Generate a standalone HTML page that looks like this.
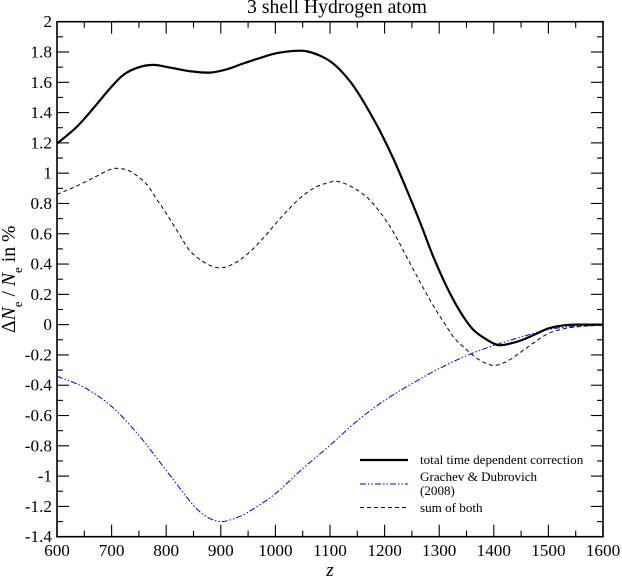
<!DOCTYPE html>
<html>
<head>
<meta charset="utf-8">
<style>
html,body{margin:0;padding:0;background:#fff;}
svg{display:block;font-family:"Liberation Serif",serif;fill:#000;}
.tick-label{font-size:17.2px;}
.legend-text{font-size:13.1px;}
</style>
</head>
<body>
<svg id="chart" width="622" height="578" viewBox="0 0 622 578" xmlns="http://www.w3.org/2000/svg">
  <text x="337" y="13" text-anchor="middle" font-size="19.7">3 shell Hydrogen atom</text>
  <g id="curves"></g>
  <g id="ticks"></g>
  <rect x="57" y="21.7" width="546" height="515" fill="none" stroke="#000" stroke-width="1.6"></rect>
  <g id="labels"></g>
  <text transform="translate(15,333) rotate(-90)" font-size="19.7">Δ<tspan font-style="italic">N</tspan><tspan font-size="13" dy="7">e</tspan><tspan dy="-7"> / </tspan><tspan font-style="italic">N</tspan><tspan font-size="13" dy="7">e</tspan><tspan dy="-7"> in %</tspan></text>
  <text x="330" y="576" text-anchor="middle" font-size="19" font-style="italic">z</text>
  <g>
    <line x1="360" x2="408" y1="460" y2="460" stroke="#000" stroke-width="2.2"></line>
    <text class="legend-text" x="420" y="464">total time dependent correction</text>
    <line x1="360" x2="408" y1="484" y2="484" stroke="#0000e0" stroke-width="1" stroke-dasharray="6,2,1.5,2,1.5,2"></line>
    <text class="legend-text" x="420" y="481">Grachev &amp; Dubrovich</text>
    <text class="legend-text" x="420" y="495">(2008)</text>
    <line x1="360" x2="408" y1="507.5" y2="507.5" stroke="#000" stroke-width="1" stroke-dasharray="4,3"></line>
    <text class="legend-text" x="420" y="512">sum of both</text>
  </g>
</svg>
<script>
const totalZ = [600,636,666,697,721,746,776,807,844,880,911,941,972,1002,1033,1057,1088,1112,1137,1155,1173,1192,1216,1240,1265,1289,1314,1338,1362,1387,1400,1410,1430,1450,1475,1500,1525,1550,1600];
const totalValues = [1.195,1.305,1.426,1.559,1.647,1.695,1.715,1.697,1.673,1.664,1.686,1.724,1.761,1.792,1.807,1.805,1.765,1.705,1.605,1.51,1.4,1.275,1.096,0.895,0.675,0.45,0.248,0.088,-0.032,-0.099,-0.125,-0.136,-0.125,-0.104,-0.065,-0.025,-0.006,0,0];
const grachevZ = [600,650,700,750,800,850,875,900,925,950,1000,1050,1100,1150,1200,1250,1300,1350,1400,1450,1500,1550,1600];
const grachevValues = [-0.34,-0.415,-0.54,-0.731,-0.962,-1.193,-1.27,-1.30,-1.28,-1.238,-1.116,-0.95,-0.797,-0.635,-0.5,-0.39,-0.29,-0.205,-0.137,-0.082,-0.032,-0.011,-0.003];
const sumZ = [600,636,666,697,712,734,764,783,800,825,844,875,900,925,950,975,1000,1025,1050,1075,1100,1112,1137,1167,1192,1216,1240,1265,1289,1314,1327,1350,1375,1400,1425,1450,1475,1500,1525,1550,1600];
const sumValues = [0.86,0.915,0.968,1.024,1.032,1.012,0.927,0.826,0.735,0.59,0.485,0.40,0.375,0.405,0.47,0.56,0.665,0.765,0.85,0.91,0.94,0.947,0.915,0.843,0.74,0.612,0.45,0.281,0.127,-0.016,-0.086,-0.165,-0.236,-0.269,-0.24,-0.18,-0.115,-0.058,-0.03,-0.015,-0.003];
const xTickValues = [600,700,800,900,1000,1100,1200,1300,1400,1500,1600];
const xTickLabels = ["600","700","800","900","1000","1100","1200","1300","1400","1500","1600"];
const yTickValues = [2,1.8,1.6,1.4,1.2,1,0.8,0.6,0.4,0.2,0,-0.2,-0.4,-0.6,-0.8,-1,-1.2,-1.4];
const yTickLabels = ["2","1.8","1.6","1.4","1.2","1","0.8","0.6","0.4","0.2","0","-0.2","-0.4","-0.6","-0.8","-1","-1.2","-1.4"];

const NS = "http://www.w3.org/2000/svg";
const xDomain = [600, 1600];
const yDomain = [-1.4, 2];
const plot = {left: 57, right: 603, top: 21.7, bottom: 536.7};
function xScale(v) {
  return plot.left + (v - xDomain[0]) / (xDomain[1] - xDomain[0]) * (plot.right - plot.left);
}
function yScale(v) {
  return plot.bottom - (v - yDomain[0]) / (yDomain[1] - yDomain[0]) * (plot.bottom - plot.top);
}
function smoothPath(xs, ys) {
  const p = xs.map((x, i) => [xScale(x), yScale(ys[i])]);
  const n = p.length;
  const m = p.map((pt, i) => {
    const a = p[Math.max(i - 1, 0)], b = p[Math.min(i + 1, n - 1)];
    return (b[1] - a[1]) / (b[0] - a[0]);
  });
  let d = "M" + p[0][0].toFixed(2) + " " + p[0][1].toFixed(2);
  for (let i = 0; i < n - 1; i++) {
    const h = (p[i + 1][0] - p[i][0]) / 3;
    d += "C" + [p[i][0] + h, p[i][1] + m[i] * h, p[i + 1][0] - h, p[i + 1][1] - m[i + 1] * h, p[i + 1][0], p[i + 1][1]].map(v => v.toFixed(2)).join(" ");
  }
  return d;
}
function makeTick(parent, x1, y1, x2, y2, name) {
  const l = document.createElementNS(NS, "line");
  l.setAttribute("x1", x1);
  l.setAttribute("y1", y1);
  l.setAttribute("x2", x2);
  l.setAttribute("y2", y2);
  l.setAttribute("stroke", "#000");
  l.setAttribute("stroke-width", "1.1");
  
  
  parent.appendChild(l);
}
function makeLabel(parent, x, y, anchor, text, name) {
  const t = document.createElementNS(NS, "text");
  t.setAttribute("x", x);
  t.setAttribute("y", y);
  t.setAttribute("text-anchor", anchor);
  t.setAttribute("class", "tick-label");
  t.textContent = text;
  
  
  parent.appendChild(t);
}

const ticksGroup = document.getElementById("ticks");
const labelsGroup = document.getElementById("labels");
const curvesGroup = document.getElementById("curves");

xTickValues.forEach((v, i) => {
  const x = xScale(v);
  makeTick(ticksGroup, x, plot.bottom, x, plot.bottom - 12, "x-major-tick-bottom");
  makeTick(ticksGroup, x, plot.top, x, plot.top + 12, "x-major-tick-top");
  makeLabel(labelsGroup, x, 556, "middle", xTickLabels[i], "x-tick-label");
  if (i < xTickValues.length - 1) {
    const mx = xScale((v + xTickValues[i + 1]) / 2);
    makeTick(ticksGroup, mx, plot.bottom, mx, plot.bottom - 6, "x-minor-tick-bottom");
    makeTick(ticksGroup, mx, plot.top, mx, plot.top + 6, "x-minor-tick-top");
  }
});
yTickValues.forEach((v, i) => {
  const y = yScale(v);
  makeTick(ticksGroup, plot.left, y, plot.left + 12, y, "y-major-tick-left");
  makeTick(ticksGroup, plot.right, y, plot.right - 12, y, "y-major-tick-right");
  makeLabel(labelsGroup, 52, y + 5.5, "end", yTickLabels[i], "y-tick-label");
  if (i < yTickValues.length - 1) {
    const my = yScale((v + yTickValues[i + 1]) / 2);
    makeTick(ticksGroup, plot.left, my, plot.left + 6, my, "y-minor-tick-left");
    makeTick(ticksGroup, plot.right, my, plot.right - 6, my, "y-minor-tick-right");
  }
});

const sumPath = document.createElementNS(NS, "path");
sumPath.setAttribute("d", smoothPath(sumZ, sumValues));
sumPath.setAttribute("fill", "none");
sumPath.setAttribute("stroke", "#000");
sumPath.setAttribute("stroke-width", "1");
sumPath.setAttribute("stroke-dasharray", "4,3");


curvesGroup.appendChild(sumPath);

const grachevPath = document.createElementNS(NS, "path");
grachevPath.setAttribute("d", smoothPath(grachevZ, grachevValues));
grachevPath.setAttribute("fill", "none");
grachevPath.setAttribute("stroke", "#0000e0");
grachevPath.setAttribute("stroke-width", "1");
grachevPath.setAttribute("stroke-dasharray", "6,2,1.5,2,1.5,2");


curvesGroup.appendChild(grachevPath);

const totalPath = document.createElementNS(NS, "path");
totalPath.setAttribute("d", smoothPath(totalZ, totalValues));
totalPath.setAttribute("fill", "none");
totalPath.setAttribute("stroke", "#000");
totalPath.setAttribute("stroke-width", "2.2");


curvesGroup.appendChild(totalPath);
</script>
</body>
</html>
